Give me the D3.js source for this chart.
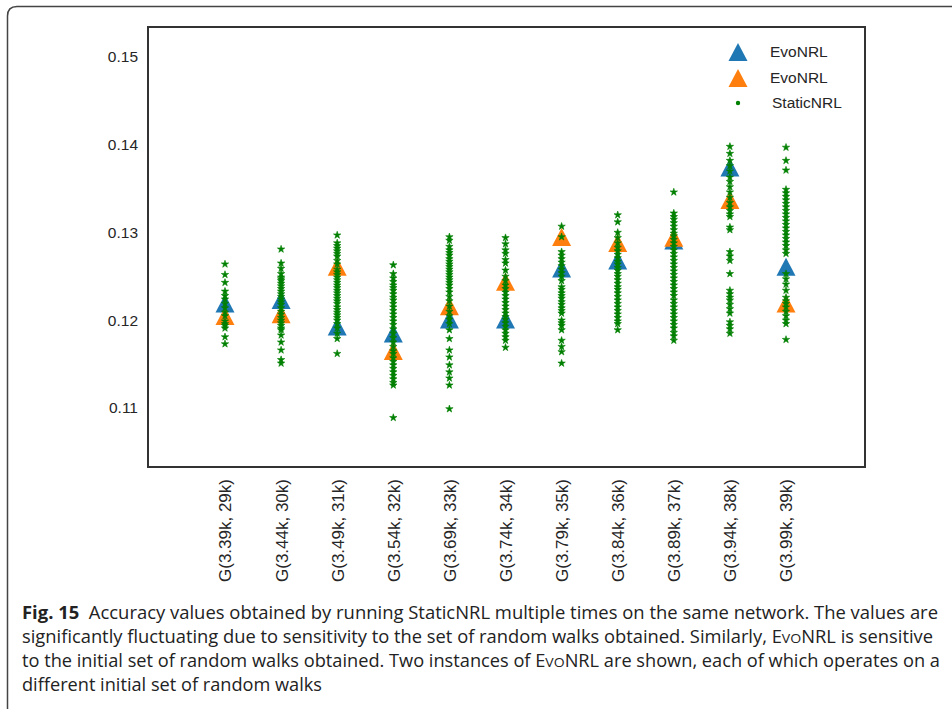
<!DOCTYPE html>
<html><head><meta charset="utf-8">
<script src="https://cdn.jsdelivr.net/npm/d3@7"></script>
<style>body{margin:0;background:#fff}svg{display:block}</style>
</head><body>
<svg id="c" width="952" height="709"></svg>
<script>
const categories = ["G(3.39k, 29k)","G(3.44k, 30k)","G(3.49k, 31k)","G(3.54k, 32k)","G(3.69k, 33k)","G(3.74k, 34k)","G(3.79k, 35k)","G(3.84k, 36k)","G(3.89k, 37k)","G(3.94k, 38k)","G(3.99k, 39k)"];
const evoA = [0.1219,0.1223,0.1193,0.1185,0.1201,0.1201,0.1259,0.1268,0.1291,0.1374,0.1261];
const evoB = [0.1205,0.1207,0.1261,0.1165,0.1216,0.1244,0.1295,0.1288,0.1294,0.1337,0.1219];
const staticRuns = [
 [0.1264,0.1252,0.1243,0.1233,0.1228,0.1224,0.1219,0.1214,0.1209,0.1205,0.1199,0.1196,0.1194,0.1191,0.1181,0.1173],
 [0.1281,0.1265,0.1259,0.1253,0.1249,0.1247,0.1245,0.1242,0.1239,0.1236,0.1233,0.1230,0.1227,0.1224,0.1221,0.1218,0.1214,0.1210,0.1207,0.1203,0.1200,0.1197,0.1194,0.1191,0.1189,0.1183,0.1175,0.1166,0.1155,0.1151],
 [0.1297,0.1288,0.1285,0.1282,0.1279,0.1276,0.1273,0.1268,0.1264,0.1258,0.1255,0.1252,0.1249,0.1246,0.1243,0.1240,0.1237,0.1234,0.1231,0.1228,0.1225,0.1222,0.1219,0.1215,0.1212,0.1209,0.1206,0.1203,0.1200,0.1196,0.1191,0.1185,0.1179,0.1162],
 [0.1263,0.1253,0.1248,0.1244,0.1240,0.1237,0.1234,0.1230,0.1226,0.1223,0.1219,0.1215,0.1211,0.1207,0.1203,0.1199,0.1195,0.1190,0.1185,0.1180,0.1175,0.1170,0.1165,0.1162,0.1157,0.1153,0.1149,0.1145,0.1141,0.1137,0.1133,0.1129,0.1126,0.1089],
 [0.1295,0.1291,0.1284,0.1280,0.1277,0.1274,0.1270,0.1267,0.1264,0.1261,0.1258,0.1255,0.1252,0.1249,0.1246,0.1243,0.1240,0.1236,0.1232,0.1227,0.1222,0.1216,0.1210,0.1205,0.1201,0.1196,0.1189,0.1179,0.1166,0.1158,0.1149,0.1141,0.1134,0.1126,0.1099],
 [0.1294,0.1287,0.1280,0.1276,0.1269,0.1265,0.1257,0.1250,0.1245,0.1240,0.1236,0.1232,0.1228,0.1224,0.1220,0.1216,0.1212,0.1208,0.1204,0.1201,0.1197,0.1193,0.1189,0.1185,0.1181,0.1177,0.1169],
 [0.1307,0.1295,0.1278,0.1274,0.1270,0.1266,0.1262,0.1258,0.1254,0.1250,0.1245,0.1238,0.1235,0.1231,0.1228,0.1225,0.1221,0.1218,0.1214,0.1211,0.1208,0.1200,0.1197,0.1194,0.1189,0.1177,0.1170,0.1164,0.1151],
 [0.1320,0.1312,0.1300,0.1294,0.1288,0.1283,0.1279,0.1275,0.1271,0.1267,0.1264,0.1260,0.1257,0.1253,0.1250,0.1246,0.1242,0.1238,0.1235,0.1231,0.1227,0.1223,0.1219,0.1215,0.1211,0.1207,0.1203,0.1199,0.1196,0.1189],
 [0.1346,0.1322,0.1318,0.1315,0.1311,0.1307,0.1303,0.1299,0.1296,0.1292,0.1288,0.1284,0.1280,0.1276,0.1272,0.1268,0.1264,0.1260,0.1256,0.1252,0.1248,0.1244,0.1240,0.1236,0.1232,0.1228,0.1223,0.1219,0.1215,0.1211,0.1207,0.1203,0.1199,0.1195,0.1191,0.1186,0.1182,0.1177],
 [0.1398,0.1390,0.1382,0.1376,0.1370,0.1363,0.1358,0.1352,0.1346,0.1340,0.1334,0.1329,0.1325,0.1321,0.1318,0.1306,0.1303,0.1278,0.1273,0.1268,0.1253,0.1234,0.1230,0.1226,0.1223,0.1218,0.1213,0.1208,0.1198,0.1194,0.1190,0.1185],
 [0.1397,0.1382,0.1371,0.1349,0.1345,0.1341,0.1337,0.1333,0.1329,0.1325,0.1321,0.1317,0.1313,0.1309,0.1305,0.1301,0.1297,0.1293,0.1289,0.1285,0.1280,0.1276,0.1253,0.1247,0.1241,0.1234,0.1226,0.1222,0.1219,0.1215,0.1210,0.1205,0.1200,0.1196,0.1178]
];
const yTicks = [0.11, 0.12, 0.13, 0.14, 0.15];
const legendLabels = ["EvoNRL", "EvoNRL", "StaticNRL"];

const svg = d3.select("#c");
const L = 148, R = 865, T = 27, B = 467;
const x = d3.scaleLinear().domain([-1.3725, 11.408]).range([L, R]);
const y = d3.scaleLinear().domain([0.10328, 0.15342]).range([B, T]);
const blue = "#1f77b4", orange = "#ff7f0e", green = "#008000", txt = "#262626";
const sans = "Liberation Sans, Arial, sans-serif";

// outer figure border (rounded)
svg.append("path").attr("d", "M7.5,709 L7.5,16 Q7.5,6.5 17,6.5 L952,6.5")
  .attr("fill", "none").attr("stroke", "#444").attr("stroke-width", 1.5);

const tri = (w, h) => `M0,${-h/2}L${w/2},${h/2}L${-w/2},${h/2}Z`;
const star = d3.symbol().type(d3.symbolStar).size(17)();

// axes (no tick marks)
const yAxis = d3.axisLeft(y).tickValues(yTicks).tickSize(0).tickPadding(10).tickFormat(d3.format(".2f"));
svg.append("g").attr("transform", `translate(${L},0)`).call(yAxis)
  .call(g => g.select(".domain").remove())
  .selectAll("text").attr("font-family", sans).attr("font-size", 15.5).attr("fill", txt);

const xAxis = d3.axisBottom(x).tickValues(d3.range(categories.length)).tickSize(0).tickFormat(i => categories[i]);
svg.append("g").attr("transform", `translate(0,${B})`).call(xAxis)
  .call(g => g.select(".domain").remove())
  .selectAll("text").attr("font-family", sans).attr("font-size", 17).attr("fill", txt)
  .attr("text-anchor", "end").attr("transform", "rotate(-90)").attr("dy", "0.35em").attr("x", -12).attr("y", 0);

// marks
const pg = svg.append("g");
pg.selectAll(".ta").data(evoA).join("path").attr("d", tri(19, 18)).attr("fill", blue)
  .attr("transform", (d, i) => `translate(${x(i)},${y(d)})`);
pg.selectAll(".tb").data(evoB).join("path").attr("d", tri(19, 18)).attr("fill", orange)
  .attr("transform", (d, i) => `translate(${x(i)},${y(d)})`);
const pts = staticRuns.flatMap((arr, i) => arr.map(v => ({i, v})));
pg.selectAll(".s").data(pts).join("path").attr("d", star).attr("fill", green)
  .attr("stroke", green).attr("stroke-width", 0.6)
  .attr("transform", d => `translate(${x(d.i)},${y(d.v)})`);

// frame
svg.append("rect").attr("x", L).attr("y", T).attr("width", R - L).attr("height", B - T)
  .attr("fill", "none").attr("stroke", "#333").attr("stroke-width", 2);

// legend
const lg = svg.append("g").attr("font-family", sans).attr("font-size", 15.5).attr("fill", txt);
const ly = [52, 78, 103];
lg.append("path").attr("d", tri(19, 18)).attr("fill", blue).attr("transform", `translate(738,${ly[0]})`);
lg.append("path").attr("d", tri(19, 18)).attr("fill", orange).attr("transform", `translate(738,${ly[1]})`);
lg.append("circle").attr("r", 2.2).attr("fill", green).attr("cx", 738).attr("cy", ly[2]);
legendLabels.forEach((t, k) => lg.append("text").attr("x", k < 2 ? 770 : 772).attr("y", ly[k]).attr("dy", "0.35em").text(t));

// caption
const cap = svg.append("g").attr("font-family", "Open Sans, Lato, sans-serif").attr("font-size", 17.5).attr("fill", "#222");
function evo(t) { t.append("tspan").text("E"); t.append("tspan").attr("font-size", 13.5).text("VO"); t.append("tspan").text("NRL"); }
const l1 = cap.append("text").attr("x", 22).attr("y", 619).attr("textLength", 916).attr("lengthAdjust", "spacingAndGlyphs");
l1.append("tspan").attr("font-weight", "bold").text("Fig. 15");
l1.append("tspan").text("\u00a0 Accuracy values obtained by running StaticNRL multiple times on the same network. The values are");
const l2 = cap.append("text").attr("x", 22).attr("y", 643).attr("textLength", 911).attr("lengthAdjust", "spacingAndGlyphs");
l2.append("tspan").text("significantly fluctuating due to sensitivity to the set of random walks obtained. Similarly, ");
evo(l2); l2.append("tspan").text(" is sensitive");
const l3 = cap.append("text").attr("x", 22).attr("y", 667).attr("textLength", 918).attr("lengthAdjust", "spacingAndGlyphs");
l3.append("tspan").text("to the initial set of random walks obtained. Two instances of ");
evo(l3); l3.append("tspan").text(" are shown, each of which operates on a");
cap.append("text").attr("x", 22).attr("y", 691).attr("textLength", 300).attr("lengthAdjust", "spacingAndGlyphs")
  .text("different initial set of random walks");
</script>
</body></html>
